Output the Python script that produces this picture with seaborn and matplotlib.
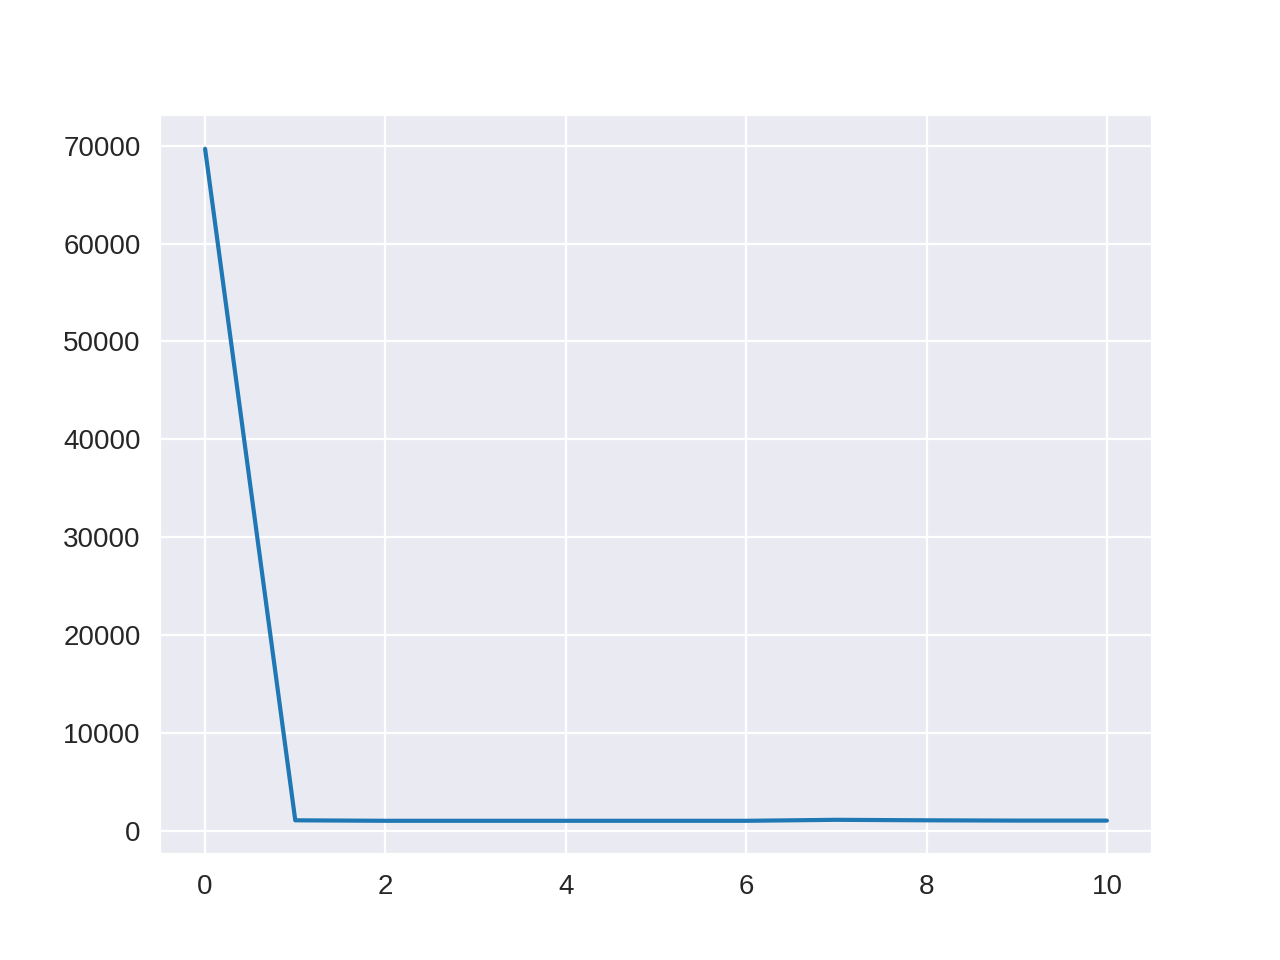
import matplotlib
matplotlib.use("Agg")
import matplotlib.pyplot as plt
import seaborn as sns

# values
steps = [0, 1, 2, 3, 4, 5, 6, 7, 8, 9, 10]
loss = [69700, 1050, 1000, 1000, 1000, 1000, 1000, 1100, 1050, 1020, 1020]

sns.set_style("darkgrid")
plt.rcParams['font.family'] = ['sans-serif']
plt.rcParams['font.sans-serif'] = ['Arial', 'Liberation Sans', 'DejaVu Sans']

fig, ax = plt.subplots(figsize=(6.4, 4.8), dpi=200)
sns.lineplot(x=steps, y=loss, ax=ax, color="#1f77b4")

fig.savefig("out.png", dpi=200)
